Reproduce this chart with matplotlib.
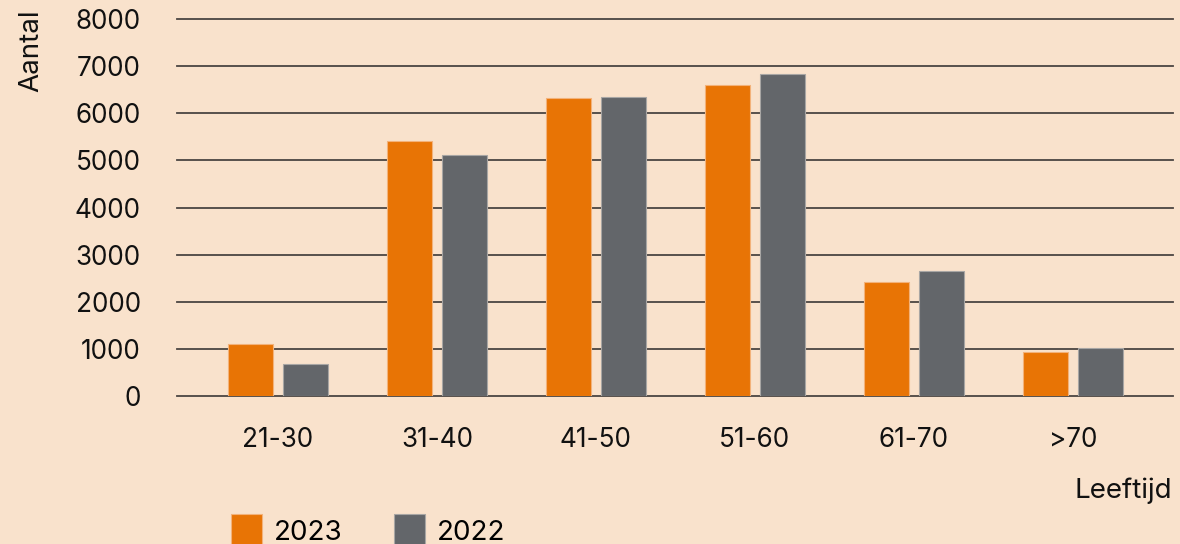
import matplotlib
matplotlib.use("Agg")
import matplotlib.pyplot as plt
import numpy as np
from matplotlib.patches import Patch

categories = ["21-30", "31-40", "41-50", "51-60", "61-70", ">70"]
values_2023 = [1110, 5410, 6320, 6590, 2420, 940]
values_2022 = [670, 5110, 6350, 6840, 2650, 1010]
series_labels = ["2023", "2022"]
yticks = [0, 1000, 2000, 3000, 4000, 5000, 6000, 7000, 8000]

bg = "#F9E2CC"
orange = "#E87405"
gray = "#63666A"

plt.rcParams['font.family'] = ['Inter', 'DejaVu Sans']

fig = plt.figure(figsize=(11.8, 5.44), dpi=100, facecolor=bg)
ax = fig.add_axes([177/1180, 1 - 396/544, (1173-177)/1180, (396-19)/544])
ax.set_facecolor(bg)

x = np.arange(len(categories))
w = 0.283
off = 0.173
ax.bar(x - off, values_2023, w, color=orange, edgecolor="#F3B27A", linewidth=0.8, zorder=3)
ax.bar(x + off, values_2022, w, color=gray, edgecolor="#A8A6A4", linewidth=0.8, zorder=3)

ax.set_xlim(-0.635, 5.63)
ax.set_ylim(0, 8000)
ax.set_yticks(yticks)
ax.set_yticklabels([str(t) for t in yticks])
for t in yticks:
    ax.axhline(t, color="#4a4542", linewidth=1.3, zorder=2, clip_on=False)

ax.set_xticks(x)
ax.set_xticklabels(categories)
for s in ax.spines.values():
    s.set_visible(False)
ax.tick_params(axis='both', length=0, labelsize=18.8, colors="#111111")
ax.tick_params(axis='y', pad=26)
ax.tick_params(axis='x', pad=22)

fig.text(31/1180, 1 - 9/544, "Aantal", rotation=90, ha="center", va="top",
         fontsize=20, color="#111111")
fig.text(1172/1180, 1 - 491/544, "Leeftijd", ha="right", va="center",
         fontsize=20, color="#111111")

handles = [Patch(facecolor=orange, edgecolor="#F3B27A", linewidth=0.8),
           Patch(facecolor=gray, edgecolor="#A8A6A4", linewidth=0.8)]
fig.legend(handles, series_labels, loc="lower left",
           bbox_to_anchor=(220/1180, -14/544), ncol=2, frameon=False,
           fontsize=20, handlelength=1.1, handleheight=1.45,
           handletextpad=0.45, columnspacing=1.85, borderaxespad=0)

fig.savefig("out.png", dpi=100, facecolor=bg)
